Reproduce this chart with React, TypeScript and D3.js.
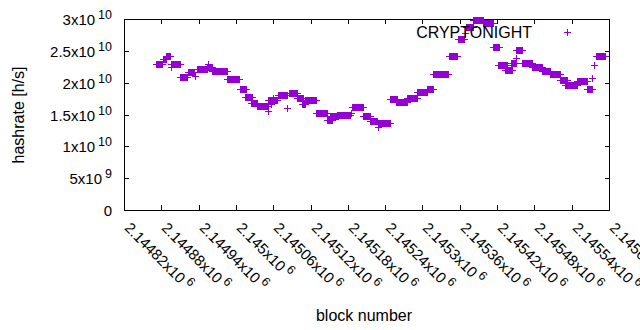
import React from 'react';
import * as d3 from 'd3';

const W = 640;
const H = 330;
const margin = { top: 19, right: 31, bottom: 120, left: 124 };
const innerW = W - margin.left - margin.right;
const innerH = H - margin.top - margin.bottom;

const seriesName = 'CRYPTONIGHT';

// runs of blocks sharing the same hashrate estimate (start block, end block, h/s)
const runStart = [
  2144871, 2144883, 2144888, 2144895, 2144910, 2144923, 2144937, 2144953, 2144961, 2144986,
  2145007, 2145015, 2145024, 2145034, 2145052, 2145068, 2145085, 2145098, 2145106, 2145111,
  2145129, 2145146, 2145151, 2145163, 2145187, 2145204, 2145216, 2145228, 2145248, 2145257,
  2145275, 2145291, 2145307, 2145317, 2145343, 2145357, 2145370, 2145381, 2145397, 2145413,
  2145421, 2145433, 2145442, 2145450, 2145460, 2145476, 2145492, 2145505, 2145521, 2145529,
  2145548, 2145565, 2145579,
];
const runEnd = [
  2144881, 2144888, 2144894, 2144910, 2144922, 2144933, 2144953, 2144961, 2144986, 2145005,
  2145016, 2145026, 2145034, 2145052, 2145066, 2145082, 2145098, 2145108, 2145111, 2145129,
  2145146, 2145154, 2145164, 2145183, 2145204, 2145216, 2145227, 2145248, 2145259, 2145275,
  2145291, 2145307, 2145317, 2145341, 2145355, 2145367, 2145381, 2145397, 2145413, 2145423,
  2145436, 2145444, 2145450, 2145460, 2145476, 2145492, 2145505, 2145521, 2145532, 2145548,
  2145565, 2145573, 2145593,
];
const runValue = [
  2.30e10, 2.37e10, 2.42e10, 2.30e10, 2.09e10, 2.17e10, 2.21e10, 2.25e10, 2.18e10, 2.06e10,
  1.90e10, 1.77e10, 1.68e10, 1.63e10, 1.72e10, 1.81e10, 1.83e10, 1.76e10, 1.66e10, 1.73e10,
  1.52e10, 1.41e10, 1.48e10, 1.49e10, 1.62e10, 1.48e10, 1.40e10, 1.37e10, 1.74e10, 1.70e10,
  1.76e10, 1.85e10, 1.90e10, 2.14e10, 2.42e10, 2.69e10, 2.87e10, 2.99e10, 2.94e10, 2.56e10,
  2.28e10, 2.20e10, 2.31e10, 2.51e10, 2.31e10, 2.25e10, 2.18e10, 2.14e10, 2.04e10, 1.96e10,
  2.03e10, 1.90e10, 2.42e10,
];

// single blocks that stand apart
const oddBlocks = [
  2144896, 2144934, 2144955, 2145052, 2145056, 2145060, 2145082, 2145185, 2145228, 2145368,
  2145450, 2145573, 2145576,
];
const oddValues = [
  2.25e10, 2.11e10, 2.29e10, 1.56e10, 1.67e10, 1.76e10, 1.60e10, 1.52e10, 1.30e10, 2.78e10,
  2.39e10, 2.07e10, 2.28e10,
];

const xTicks = d3.range(0, 14).map(i => 2144820 + i * 60);
const yTicks = [0, 5e9, 1e10, 1.5e10, 2e10, 2.5e10, 3e10];

const x = d3.scaleLinear().domain([2144820, 2145600]).range([0, innerW]);
const y = d3.scaleLinear().domain([0, 3e10]).range([innerH, 0]);

const purple = '#9400d3';
const font = '"Liberation Sans", Arial, sans-serif';

function yLabel(v: number) {
  if (v === 0) return { base: '0', sup: '' };
  const e = Math.floor(Math.log10(v));
  const m = +(v / Math.pow(10, e)).toFixed(3);
  return { base: `${m}x10`, sup: String(e) };
}

function xLabel(v: number) {
  const m = (v / 1e6).toFixed(5).replace(/0+$/, '').replace(/\.$/, '');
  return { base: `${m}x10`, sup: '6' };
}

function plusPath(px: number, py: number, s = 3.5) {
  const cx = Math.round(px) + 0.5;
  const cy = Math.round(py) + 0.5;
  return `M${cx - s},${cy}H${cx + s}M${cx},${cy - s}V${cy + s}`;
}

export default function App() {
  const points: [number, number][] = [];
  runStart.forEach((s, i) => {
    for (let b = s; b <= runEnd[i]; b++) points.push([b, runValue[i]]);
  });
  oddBlocks.forEach((b, i) => points.push([b, oddValues[i]]));

  const d = points.map(p => plusPath(x(p[0]), y(p[1]))).join('');

  return (
    <svg width={W} height={H} style={{ position: 'absolute', left: 0, top: 0, background: '#fff' }}
      fontFamily={font}>
      <g transform={`translate(${margin.left},${margin.top})`}>
        {/* frame */}
        <rect x={0.5} y={0.5} width={innerW} height={innerH} fill="none" stroke="#000" strokeWidth={1} />
        {yTicks.map(t => {
          const ty = Math.round(y(t)) + 0.5;
          const l = yLabel(t);
          return (
            <g key={'y' + t}>
              <line x1={0} x2={5} y1={ty} y2={ty} stroke="#000" />
              <line x1={innerW - 4} x2={innerW} y1={ty} y2={ty} stroke="#000" />
              <text x={-12} y={ty} dy="0.36em" textAnchor="end" fontSize={15} fill="#000">
                {l.base}
                {l.sup && <tspan dx={3} dy={-6} fontSize={12.5}>{l.sup}</tspan>}
              </text>
            </g>
          );
        })}
        {xTicks.map(t => {
          const tx = Math.round(x(t)) + 0.5;
          const l = xLabel(t);
          return (
            <g key={'x' + t}>
              <line x1={tx} x2={tx} y1={innerH} y2={innerH - 5} stroke="#000" />
              <line x1={tx} x2={tx} y1={0} y2={5} stroke="#000" />
              <text transform={`translate(${tx + 3},${innerH + 15}) rotate(45)`} dy="0.36em"
                fontSize={15} fill="#000">
                {l.base}
                <tspan dx={3} dy={-6} fontSize={12.5}>{l.sup}</tspan>
              </text>
            </g>
          );
        })}
        <path d={d} fill="none" stroke={purple} strokeWidth={1} shapeRendering="crispEdges" />
      </g>
      {/* key */}
      <text x={532} y={32} dy="0.36em" textAnchor="end" fontSize={16} fill="#000">{seriesName}</text>
      <path d={plusPath(567, 32)} stroke={purple} strokeWidth={1} shapeRendering="crispEdges" />
      <text transform="translate(18,115) rotate(-90)" textAnchor="middle" dy="0.36em" fontSize={16} fill="#000">
        hashrate [h/s]
      </text>
      <text x={364} y={321} textAnchor="middle" fontSize={16} fill="#000">block number</text>
    </svg>
  );
}
